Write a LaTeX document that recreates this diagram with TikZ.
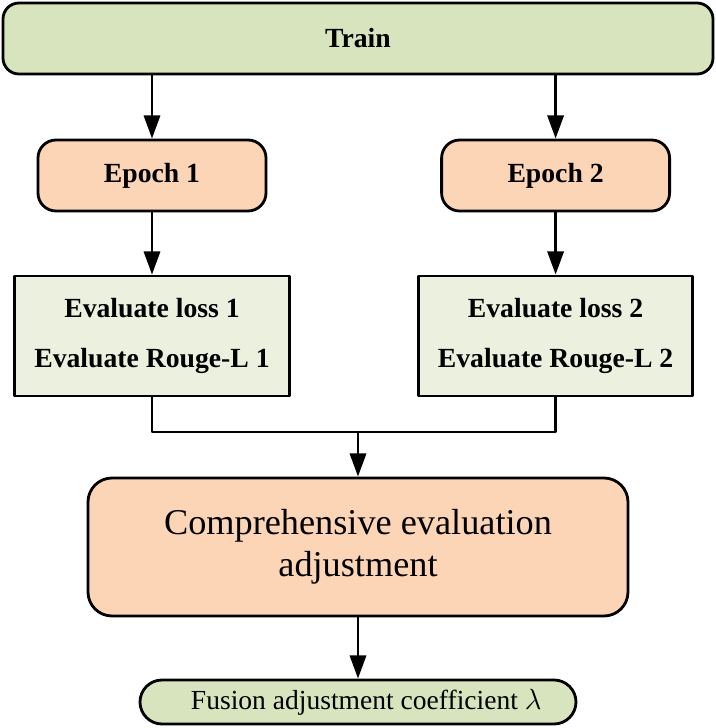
\documentclass[tikz,border=0pt]{standalone}
\usepackage{fontspec}
\setmainfont{Liberation Serif}
\usetikzlibrary{arrows.meta}
\definecolor{trainGreen}{HTML}{D7E4BD}
\definecolor{epochOrange}{HTML}{FBD5B5}
\definecolor{evalGreen}{HTML}{EBF1DE}
\begin{document}
\begin{tikzpicture}[>={Triangle[length=16.5pt,width=11.5pt]}, line width=2pt, line join=round]
	\tikzset{
		box_base/.style={draw=black, line width=2pt, align=center, inner sep=0pt},
		train_box/.style={box_base, fill=trainGreen, rounded corners=0.4cm, minimum width=17.75cm, minimum height=1.775cm, font=\fontsize{19.7}{23}\selectfont\bfseries},
		epoch_box/.style={box_base, fill=epochOrange, rounded corners=0.45cm, minimum width=5.7cm, minimum height=1.775cm, font=\fontsize{19.7}{23}\selectfont\bfseries},
		eval_box/.style={box_base, fill=evalGreen, minimum width=6.86cm, minimum height=3cm, font=\fontsize{19.7}{35.6}\selectfont\bfseries}, % two lines per box
		adjust_box/.style={box_base, fill=epochOrange, rounded corners=0.6cm, minimum width=13.5cm, minimum height=3.45cm, font=\fontsize{25.8}{29.5}\selectfont},
		result_box/.style={box_base, fill=trainGreen, rounded corners=0.55cm, minimum width=10.9cm, minimum height=1.1cm, font=\fontsize{19.6}{23}\selectfont}
	}
	\useasboundingbox (0,0) rectangle (17.9,-18.2);
	\node[train_box] (train) at (8.95,-0.9625) {Train};
	\foreach \i/\x in {1/3.8, 2/13.89} {
		\node[epoch_box] (epoch\i) at (\x,-4.3875) {Epoch \i};
		\node[eval_box] (eval\i) at (\x,-8.4) {Evaluate loss \i\\Evaluate Rouge-L \i};
		\draw[->] (train.south -| epoch\i) -- (epoch\i);
		\draw[->] (epoch\i) -- (eval\i);
	}
	\node[adjust_box] (adjust) at (8.95,-13.675) {Comprehensive evaluation\\adjustment};
	\node[result_box] (result) at (8.95,-17.55) {\hspace*{0.6em}Fusion adjustment coefficient $\lambda$};
	\coordinate (join) at (8.95,-10.8);
	\draw (eval1.south) |- (join) -| (eval2.south);
	\draw[->] (join) -- (adjust);
	\draw[->] (adjust) -- (result);
\end{tikzpicture}
\end{document}
